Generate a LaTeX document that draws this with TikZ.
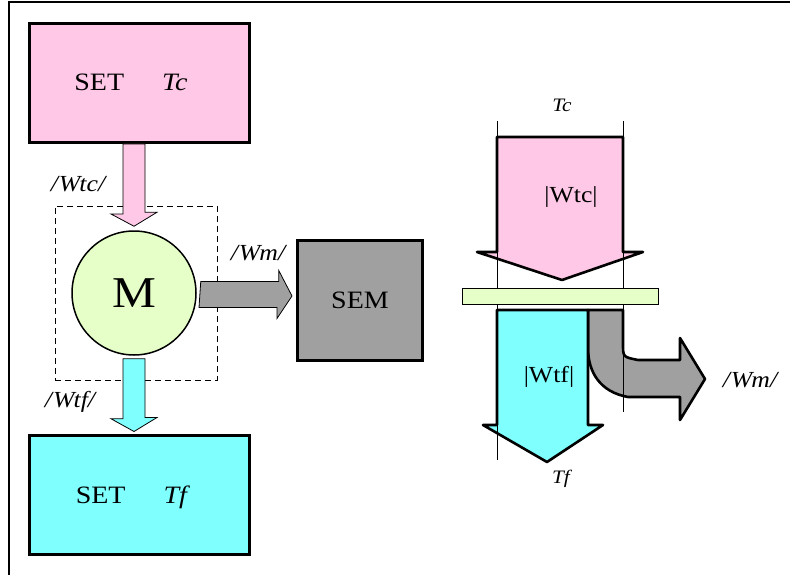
\documentclass[tikz,border=0pt]{standalone}
\usepackage{fontspec}
\setmainfont{Liberation Serif}[FakeStretch=1.12]
\usetikzlibrary{calc}
\definecolor{hotpink}{RGB}{255,200,230}
\definecolor{hotcyan}{RGB}{128,255,255}
\definecolor{motgreen}{RGB}{230,255,200}
\definecolor{semgrey}{RGB}{160,160,160}
\tikzset{
	setbox/.style={draw, line width=3pt, minimum width=220pt, minimum height=119pt, inner sep=0pt},
	flow/.style={draw, line width=0.8pt},
	bigflow/.style={draw, line width=2.6pt, line join=round},
	lbl/.style={font=\fontsize{23}{26}\selectfont\itshape},
	big/.style={font=\fontsize{25}{29}\selectfont},
}
\begin{document}
\begin{tikzpicture}[x=1pt, y=-1pt]
	\useasboundingbox (0,0) rectangle (790,575);
	% frame
	\draw[line width=2.5pt] (9,575) -- (9,2) -- (790,2);
	% left part
	\node (tc)   at (139,83)    [setbox, fill=hotpink] {};
	\node (tctx) at (131,82)    [big] {SET\hspace{38pt}\textit{Tc}};
	\node (dash) at (136,293)   [draw, dash pattern=on 6pt off 4pt, line width=0.7pt,
	                             minimum width=162pt, minimum height=174pt] {};
	\node (m)    at (134,293)   [draw, circle, line width=1.5pt, fill=motgreen, minimum size=124pt, inner sep=0pt,
	                             font=\fontsize{44}{48}\selectfont] {M};
	\node (sem)  at (360,300.5) [draw, line width=3pt, fill=semgrey, minimum width=125pt, minimum height=120pt,
	                             big] {SEM};
	\node (tf)   at (139,494.5) [setbox, fill=hotcyan] {};
	\node (tftx) at (133,497)   [big] {SET\hspace{38pt}\textit{Tf}};
	\draw[flow, fill=hotpink] ($(m.north |- tc.south)+(-11,0)$) -- ++(0,70) -- ++(-12,0) -- ($(m.north)+(0,-4)$)
		-- ++(23,-14) -- ++(-12,0) -- ($(m.north |- tc.south)+(11,0)$) -- cycle;
	\draw[flow, fill=hotcyan] ($(m.south)+(-11,3)$) -- ++(0,60) -- ++(-12,0) -- ($(m.south |- tf.north)+(0,-2)$)
		-- ++(23,-14) -- ++(-12,0) -- ($(m.south)+(11,3)$) -- cycle;
	\draw[flow, fill=semgrey] ($(m.east)+(4,-11.5)$) -- ++(78,0) -- ++(0,-11) -- ($(sem.west)+(-4,-4.5)$)
		-- ++(-15,22.5) -- ++(0,-11) -- ++(-78,0) -- cycle;
	\node (wtc) at (78,184) [lbl] {/\kern1pt W\kern-1pt tc/};
	\node (wm)  at (258,253) [lbl] {/\kern1pt W\kern-1pt m/};
	\node (wtf) at (70,402) [lbl] {/\kern1pt W\kern-1pt tf/};
	% right part
	\draw[bigflow, fill=hotpink] (497,137) -- (623,137) -- (623,252) -- (643,252) -- (562,280)
		-- (477,252) -- (497,252) -- cycle;
	\draw[bigflow, fill=semgrey] (588,310) -- (623,310) -- (623,344) .. controls (623,357) .. (638,360)
		-- (680,360) -- (680,338) -- (705,379) -- (680,420) -- (680,397) -- (628,397)
		.. controls (600,392) and (588,372) .. (588,348) -- cycle;
	\draw[bigflow, fill=hotcyan] (497,310) -- (588,310) -- (588,425) -- (603,425) -- (547,462)
		-- (483,425) -- (497,425) -- cycle;
	\draw[thin] (497,121) -- (497,460);
	\draw[thin] (623,121) -- (623,412);
	\node (bar) at (560,296) [draw, thin, fill=motgreen, minimum width=196pt, minimum height=16pt, inner sep=0pt] {};
	\node (tc2)  at (562,105) [font=\fontsize{19}{22}\selectfont\itshape] {Tc};
	\node (tf2)  at (561,479) [font=\fontsize{19}{22}\selectfont\itshape] {Tf};
	\node (wtc2) at (571,197) [font=\fontsize{23}{26}\selectfont] {|Wtc|};
	\node (wtf2) at (549,377) [font=\fontsize{23}{26}\selectfont] {|Wtf|};
	\node (wm2)  at (750,380) [lbl] {/\kern1pt W\kern-1pt m/};
\end{tikzpicture}
\end{document}
